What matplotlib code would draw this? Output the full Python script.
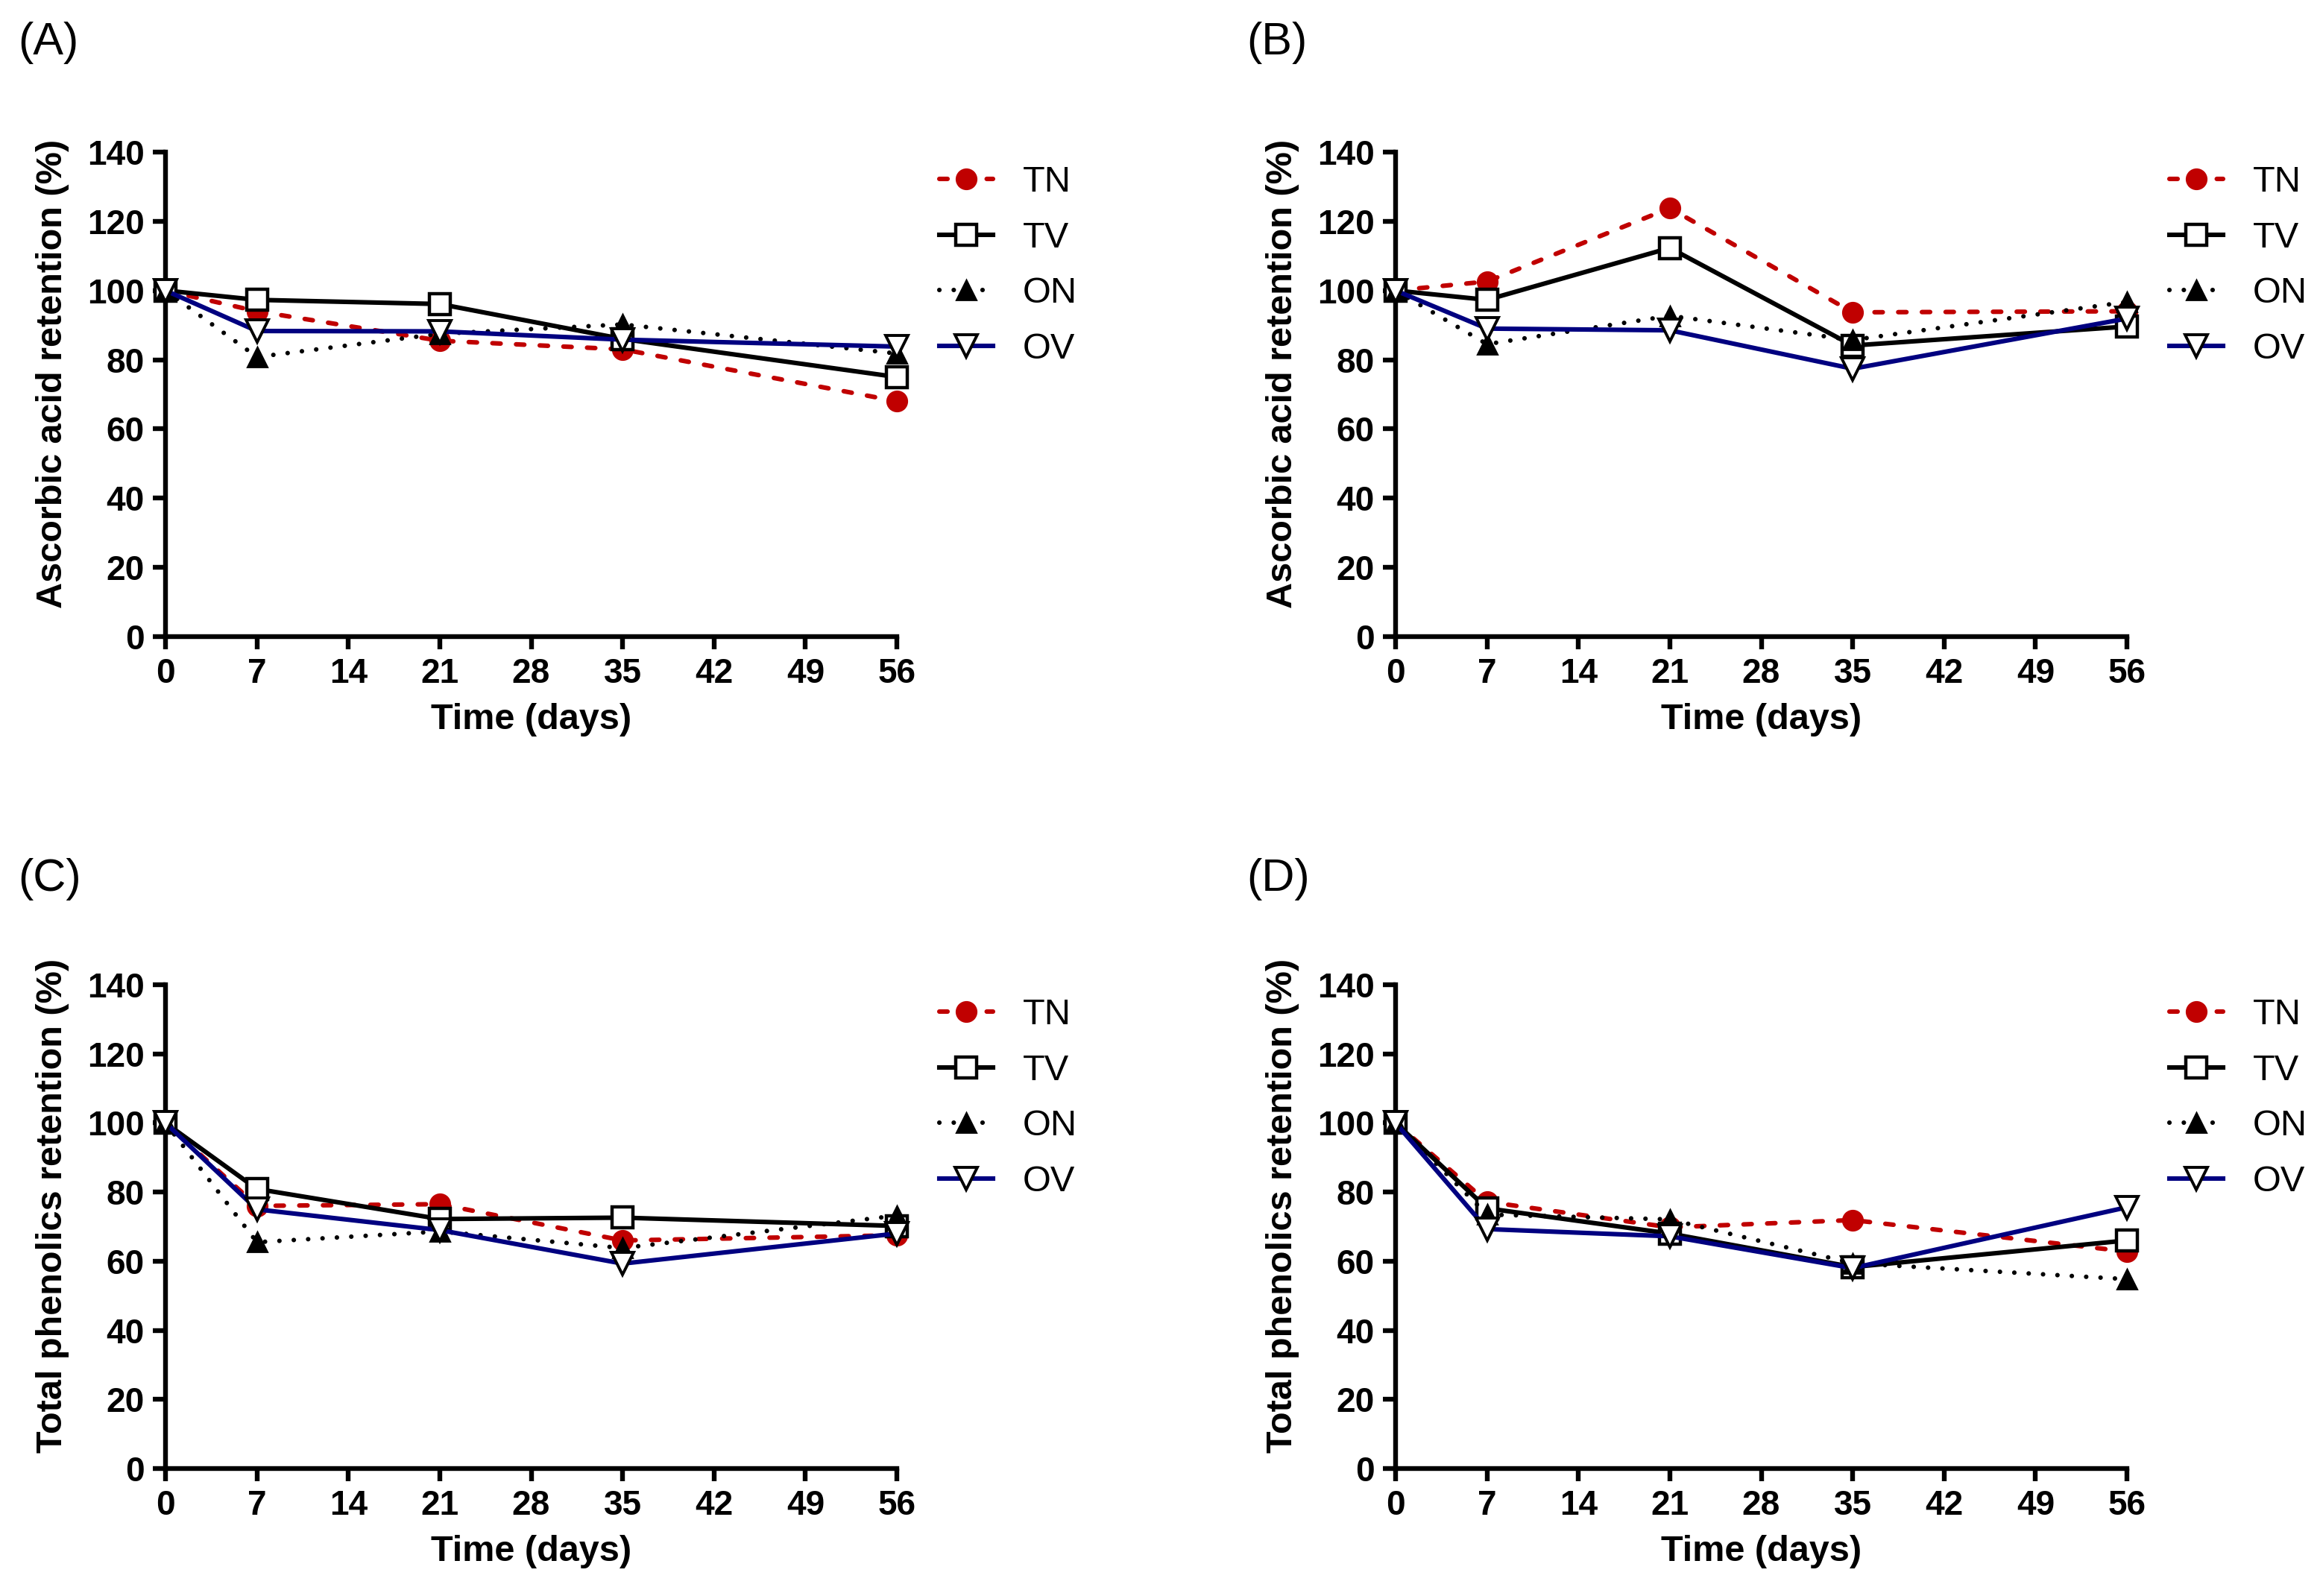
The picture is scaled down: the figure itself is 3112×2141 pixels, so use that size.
import matplotlib
matplotlib.use("Agg")
import matplotlib.pyplot as plt

plt.rcParams['font.family'] = ['Liberation Sans', 'DejaVu Sans']

days = [0, 7, 21, 35, 56]
series_names = ["TN", "TV", "ON", "OV"]

# Panel A: ascorbic acid retention (%)
A_TN = [100, 94, 85.5, 83, 68]
A_TV = [100, 97.3, 96.1, 86, 75]
A_ON = [100, 80.8, 87.5, 90.2, 81.8]
A_OV = [100, 88.3, 88.2, 85.8, 83.8]

# Panel B: ascorbic acid retention (%)
B_TN = [100, 102.6, 123.8, 93.7, 94]
B_TV = [100, 97.3, 112.3, 84.1, 89.6]
B_ON = [100, 84.5, 92.7, 85.7, 96.7]
B_OV = [100, 89, 88.5, 77.4, 91.9]

# Panel C: total phenolics retention (%)
C_TN = [100, 76, 76.5, 66, 67.5]
C_TV = [100, 80.9, 72.2, 72.6, 70.2]
C_ON = [100, 65.5, 68.6, 63.8, 73.2]
C_OV = [100, 75, 69, 59.3, 68]

# Panel D: total phenolics retention (%)
D_TN = [100, 77.2, 69.8, 71.9, 62.8]
D_TV = [100, 75.3, 68, 58.3, 66]
D_ON = [100, 73.5, 72.1, 59.4, 54.8]
D_OV = [100, 69.3, 67.2, 58, 75.6]

panel_labels = ["(A)", "(B)", "(C)", "(D)"]
ylabels = ["Ascorbic acid retention (%)", "Ascorbic acid retention (%)",
           "Total phenolics retention (%)", "Total phenolics retention (%)"]
xticks = [0, 7, 14, 21, 28, 35, 42, 49, 56]
yticks = [0, 20, 40, 60, 80, 100, 120, 140]

RED = "#C00000"
NAVY = "#000080"

W, H = 3112, 2141
fig = plt.figure(figsize=(W / 200, H / 200), dpi=200)

def frac_rect(x0, x1, ytop, ybot):
    return [x0 / W, 1 - ybot / H, (x1 - x0) / W, (ybot - ytop) / H]

rects = [frac_rect(222, 1203, 204, 854), frac_rect(1872, 2853, 204, 854),
         frac_rect(222, 1203, 1321, 1970), frac_rect(1872, 2853, 1321, 1970)]
label_pos = [(24, 58), (1672, 58), (24, 1180), (1672, 1180)]

data = [(A_TN, A_TV, A_ON, A_OV), (B_TN, B_TV, B_ON, B_OV),
        (C_TN, C_TV, C_ON, C_OV), (D_TN, D_TV, D_ON, D_OV)]

lw = 2.2
for i in range(4):
    ax = fig.add_axes(rects[i])
    tn, tv, on, ov = data[i]
    ax.plot(days, tn, color=RED, lw=lw, ls=(0, (1.8, 3.4)), dash_capstyle='round',
            marker='o', ms=9.5, mfc=RED, mec=RED, clip_on=False,
            label=series_names[0], zorder=3)
    ax.plot(days, tv, color='black', lw=lw, ls='-', marker='s', ms=10,
            mfc='white', mec='black', mew=1.6, clip_on=False, label=series_names[1], zorder=4)
    ax.plot(days, on, color='black', lw=lw, ls=(0, (0.01, 3.15)), dash_capstyle='round',
            marker='^', ms=9.5, mfc='black', mec='black', clip_on=False,
            label=series_names[2], zorder=5)
    ax.plot(days, ov, color=NAVY, lw=lw, ls='-', marker='v', ms=10.5,
            mfc='white', mec='black', mew=1.4, clip_on=False, label=series_names[3], zorder=6)
    ax.set_xlim(0, 56)
    ax.set_ylim(0, 140)
    ax.set_xticks(xticks)
    ax.set_yticks(yticks)
    for s in ['top', 'right']:
        ax.spines[s].set_visible(False)
    for s in ['left', 'bottom']:
        ax.spines[s].set_linewidth(2.3)
    ax.tick_params(axis='both', which='major', direction='out', length=6.2, width=2.3,
                   labelsize=16.5, pad=4)
    for t in ax.get_xticklabels() + ax.get_yticklabels():
        t.set_fontweight('bold')
    ax.set_xlabel("Time (days)", fontsize=17.5, fontweight='bold', labelpad=6)
    ax.set_ylabel(ylabels[i], fontsize=17.5, fontweight='bold')
    ax.yaxis.set_label_coords(-0.1315, 0.543)
    leg = ax.legend(loc='upper left', bbox_to_anchor=(1.038, 1.002), frameon=False,
                    fontsize=17.5, handlelength=1.48, handletextpad=0.82,
                    labelspacing=0.61, borderaxespad=0, numpoints=1)
    lx, ly = label_pos[i]
    fig.text(lx / W, 1 - ly / H, panel_labels[i], fontsize=22, ha='left', va='center')

fig.savefig("out.png", dpi=200)
